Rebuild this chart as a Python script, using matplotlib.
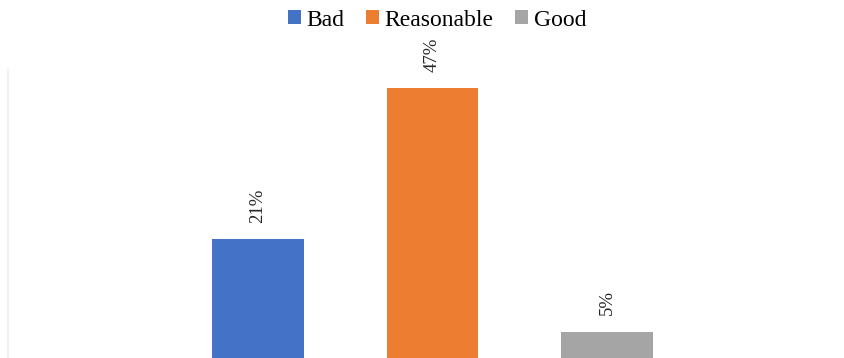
import matplotlib
matplotlib.use("Agg")
import matplotlib.pyplot as plt
from matplotlib.patches import Patch
from matplotlib.lines import Line2D

categories = ["Bad", "Reasonable", "Good"]
values = [21, 47, 5]
labels = ["21%", "47%", "5%"]
colors = ["#4472C4", "#ED7D31", "#A5A5A5"]

plt.rcParams['font.family'] = ['Liberation Serif', 'DejaVu Serif']

W, H = 845, 358
fig = plt.figure(figsize=(W / 100, H / 100), dpi=100)
ax = fig.add_axes([0, 0, 1, 1])

x = list(range(len(categories)))
bars = ax.bar(x, values, width=0.527, color=colors)

for xi, v, lab in zip(x, values, labels):
    ax.annotate(lab, (xi, v), xytext=(0, 12), textcoords="offset points",
                rotation=90, ha="center", va="bottom", fontsize=13.5,
                color="#262626")

# pixel mapping: x_px = 258 + 174.5*v ; y_px(from top) = 361 - 5.8*v
ax.set_xlim(-258 / 174.5, (W - 258) / 174.5)
ax.set_ylim((361 - H) / 5.8, 361 / 5.8)
ax.axis("off")

handles = [Patch(facecolor=c, edgecolor="none") for c in colors]
fig.legend(handles, categories, loc="center", bbox_to_anchor=(437 / W, 1 - 20 / H),
           ncol=3, frameon=False, fontsize=17, handlelength=0.55,
           handleheight=0.55, handletextpad=0.25, columnspacing=0.9,
           borderaxespad=0, borderpad=0)

fig.add_artist(Line2D([8.5 / W, 8.5 / W], [0, 1 - 70 / H], transform=fig.transFigure,
                      color="#f0f0f0", lw=1.5))

fig.savefig("out.png", dpi=100)
